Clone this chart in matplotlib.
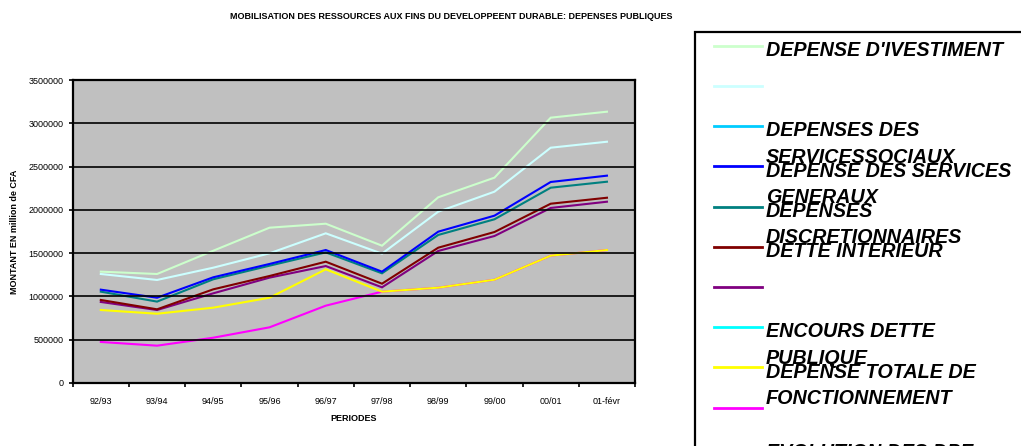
import numpy as np
import matplotlib
matplotlib.use("Agg")
import matplotlib.pyplot as plt
import matplotlib.patches as patches
from matplotlib.lines import Line2D

# ------------------------------------------------------------------
# Données
# ------------------------------------------------------------------
periodes = ['92/93', '93/94', '94/95', '95/96', '96/97', '97/98',
            '98/99', '99/00', '00/01', '01-févr']

depense_investissement = [1286000, 1259000, 1528000, 1794000, 1840000,
                          1586000, 2145000, 2372000, 3065000, 3134000]
serie_cyan_pale = [1259000, 1190000, 1332000, 1498000, 1729000,
                   1494000, 1979000, 2210000, 2718000, 2787000]
services_sociaux = [np.nan] * 10
services_generaux = [1078000, 985000, 1221000, 1375000, 1536000,
                     1286000, 1748000, 1933000, 2322000, 2395000]
discretionnaires = [1055000, 940000, 1198000, 1355000, 1509000,
                    1267000, 1710000, 1891000, 2256000, 2325000]
dette_interieur = [959000, 851000, 1082000, 1236000, 1401000,
                   1147000, 1563000, 1744000, 2071000, 2140000]
serie_violette = [936000, 843000, 1036000, 1217000, 1351000,
                  1105000, 1525000, 1698000, 2022000, 2094000]
encours_dette = [np.nan] * 10
fonctionnement = [843000, 800000, 870000, 985000, 1313000,
                  1055000, 1101000, 1193000, 1471000, 1536000]
serie_magenta = [474000, 431000, 523000, 643000, 893000,
                 1055000, 1101000, 1193000, 1471000, 1536000]
evolution_dpe = [np.nan] * 10

series = [
    (depense_investissement, '#CCFFCC', "DEPENSE D'IVESTIMENT"),
    (serie_cyan_pale, '#CCFFFF', ""),
    (services_sociaux, '#00CCFF', "DEPENSES DES\nSERVICESSOCIAUX"),
    (services_generaux, '#0000FF', "DEPENSE DES SERVICES\nGENERAUX"),
    (discretionnaires, '#008080', "DEPENSES\nDISCRETIONNAIRES"),
    (dette_interieur, '#800000', "DETTE INTERIEUR"),
    (serie_violette, '#800080', ""),
    (encours_dette, '#00FFFF', "ENCOURS DETTE\nPUBLIQUE"),
    (fonctionnement, '#FFFF00', "DEPENSE TOTALE DE\nFONCTIONNEMENT"),
    (serie_magenta, '#FF00FF', ""),
    (evolution_dpe, '#FF0000', "EVOLUTION DES DPE"),
]

plt.rcParams['font.family'] = ['Liberation Sans', 'DejaVu Sans']

fig = plt.figure(figsize=(10.21, 4.46), dpi=100)
ax = fig.add_axes([0.0712, 0.1413, 0.5508, 0.6793])
ax.set_facecolor('#C0C0C0')

x = np.arange(len(periodes))
# ordre de tracé : les dernières séries sous les premières
for vals, col, lab in reversed(series):
    ax.plot(x, vals, color=col, lw=1.5, solid_joinstyle='miter')

ax.set_xlim(-0.5, len(periodes) - 0.5)
ax.set_ylim(0, 3500000)
ax.set_yticks(np.arange(0, 3500001, 500000))
ax.set_yticklabels([str(v) for v in range(0, 3500001, 500000)], fontsize=6.5)
ax.yaxis.grid(True, color='black', lw=1.2)
ax.set_axisbelow(False)

ax.set_xticks(np.arange(-0.5, len(periodes)))
ax.set_xticklabels([])
ax.set_xticks(x, minor=True)
ax.set_xticklabels(periodes, minor=True, fontsize=6.5)
ax.tick_params(axis='x', which='minor', length=0, pad=10)
ax.tick_params(axis='both', which='major', direction='out', length=3, width=1.2)
for s in ax.spines.values():
    s.set_linewidth(1.6)

ax.set_xlabel('PERIODES', fontsize=6.5, fontweight='bold', labelpad=6)
ax.set_ylabel('MONTANT EN million de CFA', fontsize=6.5, fontweight='bold', labelpad=7)
fig.text(0.442, 0.962, 'MOBILISATION DES RESSOURCES AUX FINS DU DEVELOPPEENT DURABLE: DEPENSES PUBLIQUES',
         ha='center', va='center', fontsize=6.5, fontweight='bold')

# ------------------------------------------------------------------
# Légende (cadre coupé à droite et en bas, comme dans l'original)
# ------------------------------------------------------------------
W, H = 1021, 446
box = patches.Rectangle((695 / W, -0.2), 0.5, 1.2 - 32 / H, transform=fig.transFigure,
                        facecolor='white', edgecolor='black', lw=1.6, clip_on=False)
fig.add_artist(box)
y0, dy = 45.7, 40.2
for i, (vals, col, lab) in enumerate(series):
    yy = 1 - (y0 + i * dy) / H
    fig.add_artist(Line2D([714 / W, 762 / W], [yy, yy], transform=fig.transFigure,
                          color=col, lw=2))
    if lab:
        fig.text(766 / W, yy + 4.7 / H, lab, ha='left', va='top', fontsize=14.2,
                 fontweight='bold', style='italic', linespacing=1.5)

fig.savefig('out.png', dpi=100)
